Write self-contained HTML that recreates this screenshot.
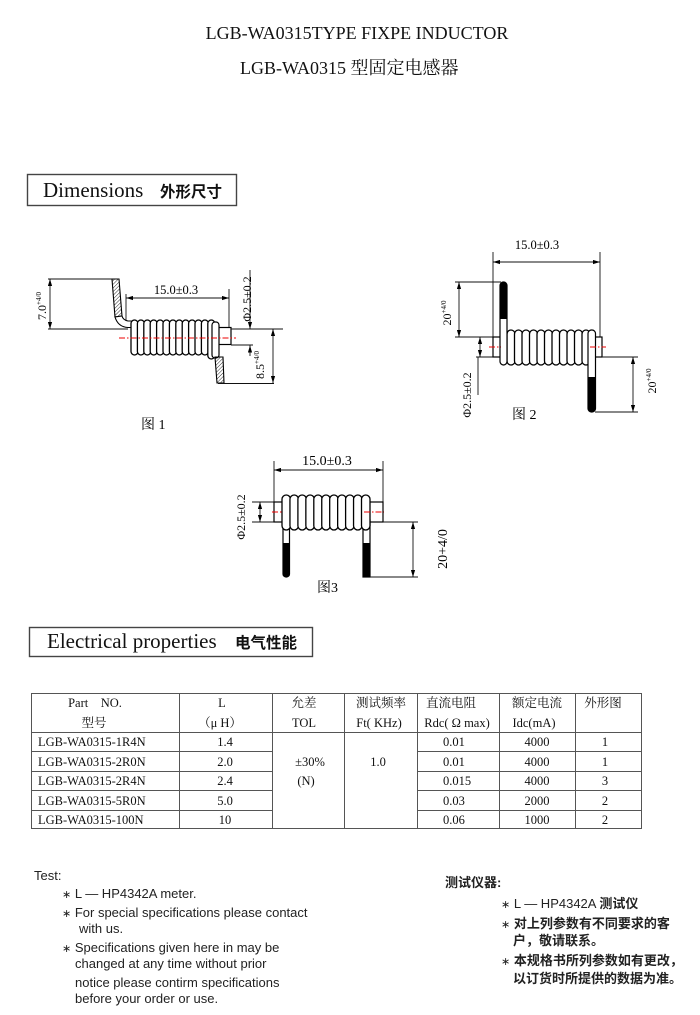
<!DOCTYPE html>
<html>
<head>
<meta charset="utf-8">
<style>
html,body{margin:0;padding:0;background:#fff;}
body{width:700px;height:1015px;overflow:hidden;position:relative;}
svg{position:absolute;left:0;top:0;}
.s{font-family:"Liberation Serif","Noto Serif CJK SC",serif;}
.ss{font-family:"Liberation Sans","Noto Sans CJK SC",sans-serif;}
.ln{stroke:#111;stroke-width:0.9;fill:none;}
.tb{stroke:#555;stroke-width:1;fill:none;}
.cl{fill:#fff;stroke:#000;stroke-width:1.3;}
.rd{stroke:#e00;stroke-width:1;stroke-dasharray:6,2,1.5,2;fill:none;}
</style>
</head>
<body>
<svg width="700" height="1015" viewBox="0 0 700 1015" xmlns="http://www.w3.org/2000/svg">
<defs>
<marker id="a" viewBox="0 0 10 6" refX="10" refY="3" markerWidth="7" markerHeight="4.5" orient="auto-start-reverse" markerUnits="userSpaceOnUse"><path d="M0,0L10,3L0,6z" fill="#000"/></marker>
<pattern id="h" width="2.6" height="2.6" patternUnits="userSpaceOnUse" patternTransform="rotate(45)"><line x1="0" y1="0" x2="0" y2="2.6" stroke="#000" stroke-width="0.8"/></pattern>
</defs>

<!-- Titles -->
<text class="s" x="357" y="39" font-size="18" text-anchor="middle" fill="#111">LGB-WA0315TYPE FIXPE INDUCTOR</text>
<text class="s" x="240" y="74" font-size="18" fill="#111">LGB-WA0315 型固定电感器</text>

<!-- Dimensions box -->
<rect x="27.5" y="174.5" width="209" height="31" fill="#fff" stroke="#444" stroke-width="1.4"/>
<text class="s" x="43" y="197" font-size="21" fill="#111">Dimensions</text>
<text class="ss" x="160" y="197" font-size="15.5" font-weight="bold" fill="#111">外形尺寸</text>

<!-- ===== Figure 1 ===== -->
<g>
<line class="ln" x1="48" y1="279" x2="112" y2="279"/>
<line class="ln" x1="48" y1="329" x2="128" y2="329"/>
<line class="ln" x1="50" y1="279" x2="50" y2="329" marker-start="url(#a)" marker-end="url(#a)"/>
<text class="s" font-size="12" transform="translate(46,306) rotate(-90)" text-anchor="middle">7.0<tspan font-size="7" dy="-5">+4/0</tspan></text>

<line class="ln" x1="126" y1="294" x2="126" y2="325"/>
<line class="ln" x1="229" y1="289" x2="229" y2="327"/>
<line class="ln" x1="126" y1="298" x2="229" y2="298" marker-start="url(#a)" marker-end="url(#a)"/>
<text class="s" x="176" y="294" font-size="12.5" text-anchor="middle">15.0±0.3</text>

<polygon points="112,279 119,279 122,316 115,317" fill="url(#h)" stroke="#000" stroke-width="1.1"/>
<path d="M115,317 Q118,327 128,327.5 L134,327.5 L134,321 L128,321 Q123,320 122,316 Z" fill="#fff" stroke="#000" stroke-width="1.1"/>

<rect class="cl" x="131" y="320" width="7" height="35" rx="3.5"/>
<rect class="cl" x="137.4" y="320" width="7" height="35" rx="3.5"/>
<rect class="cl" x="143.8" y="320" width="7" height="35" rx="3.5"/>
<rect class="cl" x="150.2" y="320" width="7" height="35" rx="3.5"/>
<rect class="cl" x="156.6" y="320" width="7" height="35" rx="3.5"/>
<rect class="cl" x="163" y="320" width="7" height="35" rx="3.5"/>
<rect class="cl" x="169.4" y="320" width="7" height="35" rx="3.5"/>
<rect class="cl" x="175.8" y="320" width="7" height="35" rx="3.5"/>
<rect class="cl" x="182.2" y="320" width="7" height="35" rx="3.5"/>
<rect class="cl" x="188.6" y="320" width="7" height="35" rx="3.5"/>
<rect class="cl" x="195" y="320" width="7" height="35" rx="3.5"/>
<rect class="cl" x="201.4" y="320" width="7" height="35" rx="3.5"/>
<rect class="cl" x="207.8" y="320" width="7" height="39" rx="3.5"/>
<rect x="215" y="327.5" width="16" height="17" fill="#fff" stroke="#000" stroke-width="1.2"/>
<rect x="212" y="322" width="7" height="36" rx="3" fill="#fff" stroke="#000" stroke-width="1.2"/>
<polygon points="215,357 223,357 224,383 217,383" fill="url(#h)" stroke="#000" stroke-width="1.1"/>
<line class="rd" x1="119" y1="338" x2="236" y2="338"/>

<line class="ln" x1="231" y1="329" x2="283" y2="329"/>
<line class="ln" x1="231" y1="345" x2="253" y2="345"/>
<line class="ln" x1="218" y1="383.5" x2="274" y2="383.5"/>
<line class="ln" x1="250" y1="270" x2="250" y2="329" marker-end="url(#a)"/>
<line class="ln" x1="250" y1="356" x2="250" y2="345.5" marker-end="url(#a)"/>
<text class="s" font-size="12" transform="translate(251,299) rotate(-90)" text-anchor="middle">Φ2.5±0.2</text>
<line class="ln" x1="273" y1="329" x2="273" y2="383" marker-start="url(#a)" marker-end="url(#a)"/>
<text class="s" font-size="12" transform="translate(264,365) rotate(-90)" text-anchor="middle">8.5<tspan font-size="7" dy="-5">+4/0</tspan></text>

<text class="s" x="141" y="429" font-size="14">图 1</text>
</g>

<!-- ===== Figure 2 ===== -->
<g>
<line class="ln" x1="493" y1="252" x2="493" y2="337"/>
<line class="ln" x1="600" y1="252" x2="600" y2="337"/>
<line class="ln" x1="493" y1="262" x2="600" y2="262" marker-start="url(#a)" marker-end="url(#a)"/>
<text class="s" x="537" y="249" font-size="12.5" text-anchor="middle">15.0±0.3</text>

<line class="ln" x1="455" y1="282" x2="501" y2="282"/>
<line class="ln" x1="455" y1="337" x2="493" y2="337"/>
<line class="ln" x1="459" y1="282" x2="459" y2="337" marker-start="url(#a)" marker-end="url(#a)"/>
<text class="s" font-size="12" transform="translate(451,313) rotate(-90)" text-anchor="middle">20<tspan font-size="7" dy="-5">+4/0</tspan></text>

<line class="ln" x1="476" y1="357" x2="493" y2="357"/>
<line class="ln" x1="480" y1="337" x2="480" y2="357" marker-start="url(#a)" marker-end="url(#a)"/>
<line class="ln" x1="478" y1="357" x2="478" y2="395"/>
<text class="s" font-size="12" transform="translate(471,395) rotate(-90)" text-anchor="middle">Φ2.5±0.2</text>

<rect x="493" y="337" width="8" height="20" fill="#fff" stroke="#000" stroke-width="1.2"/>
<rect x="594" y="337" width="8" height="20" fill="#fff" stroke="#000" stroke-width="1.2"/>
<rect class="cl" x="507" y="330" width="8" height="35" rx="4"/>
<rect class="cl" x="514.5" y="330" width="8" height="35" rx="4"/>
<rect class="cl" x="522" y="330" width="8" height="35" rx="4"/>
<rect class="cl" x="529.5" y="330" width="8" height="35" rx="4"/>
<rect class="cl" x="537" y="330" width="8" height="35" rx="4"/>
<rect class="cl" x="544.5" y="330" width="8" height="35" rx="4"/>
<rect class="cl" x="552" y="330" width="8" height="35" rx="4"/>
<rect class="cl" x="559.5" y="330" width="8" height="35" rx="4"/>
<rect class="cl" x="567" y="330" width="8" height="35" rx="4"/>
<rect class="cl" x="574.5" y="330" width="8" height="35" rx="4"/>
<rect class="cl" x="582" y="330" width="8" height="35" rx="4"/>
<rect x="500" y="282" width="7" height="83" rx="3.5" fill="#fff" stroke="#000" stroke-width="1.2"/>
<path d="M500,319 L500,285.5 A3.5,3.5 0 0 1 507,285.5 L507,319 Z" fill="#000"/>
<rect x="588" y="330" width="7.5" height="82" rx="3.5" fill="#fff" stroke="#000" stroke-width="1.2"/>
<path d="M588,377 L588,408.5 A3.75,3.5 0 0 0 595.5,408.5 L595.5,377 Z" fill="#000"/>
<line class="rd" x1="489" y1="347" x2="501" y2="347"/>
<line class="rd" x1="590" y1="347" x2="606" y2="347"/>

<line class="ln" x1="602" y1="357" x2="638" y2="357"/>
<line class="ln" x1="595" y1="412" x2="638" y2="412"/>
<line class="ln" x1="633" y1="357" x2="633" y2="412" marker-start="url(#a)" marker-end="url(#a)"/>
<text class="s" font-size="12" transform="translate(656,381) rotate(-90)" text-anchor="middle">20<tspan font-size="7" dy="-5">+4/0</tspan></text>

<text class="s" x="512" y="419" font-size="14">图 2</text>
</g>

<!-- ===== Figure 3 ===== -->
<g>
<line class="ln" x1="274" y1="461" x2="274" y2="502"/>
<line class="ln" x1="383" y1="461" x2="383" y2="502"/>
<line class="ln" x1="274" y1="470" x2="383" y2="470" marker-start="url(#a)" marker-end="url(#a)"/>
<text class="s" x="327" y="465" font-size="14" text-anchor="middle">15.0±0.3</text>

<line class="ln" x1="252" y1="502" x2="274" y2="502"/>
<line class="ln" x1="252" y1="522" x2="274" y2="522"/>
<line class="ln" x1="260" y1="502" x2="260" y2="522" marker-start="url(#a)" marker-end="url(#a)"/>
<text class="s" font-size="12" transform="translate(245,517) rotate(-90)" text-anchor="middle">Φ2.5±0.2</text>

<rect x="274" y="502" width="9" height="20" fill="#fff" stroke="#000" stroke-width="1.2"/>
<rect x="369" y="502" width="14" height="20" fill="#fff" stroke="#000" stroke-width="1.2"/>
<rect x="283" y="520" width="6.5" height="57" rx="3" fill="#fff" stroke="#000" stroke-width="1.2"/>
<path d="M283,543 L283,574 A3.25,3 0 0 0 289.5,574 L289.5,543 Z" fill="#000"/>
<rect x="363" y="520" width="7" height="57" fill="#fff" stroke="#000" stroke-width="1.2"/>
<rect x="363" y="543" width="7" height="34" fill="#000"/>
<rect class="cl" x="282" y="495" width="8.5" height="35" rx="4.2"/>
<rect class="cl" x="289.95" y="495" width="8.5" height="35" rx="4.2"/>
<rect class="cl" x="297.9" y="495" width="8.5" height="35" rx="4.2"/>
<rect class="cl" x="305.85" y="495" width="8.5" height="35" rx="4.2"/>
<rect class="cl" x="313.8" y="495" width="8.5" height="35" rx="4.2"/>
<rect class="cl" x="321.75" y="495" width="8.5" height="35" rx="4.2"/>
<rect class="cl" x="329.7" y="495" width="8.5" height="35" rx="4.2"/>
<rect class="cl" x="337.65" y="495" width="8.5" height="35" rx="4.2"/>
<rect class="cl" x="345.6" y="495" width="8.5" height="35" rx="4.2"/>
<rect class="cl" x="353.55" y="495" width="8.5" height="35" rx="4.2"/>
<rect class="cl" x="361.5" y="495" width="8.5" height="35" rx="4.2"/>
<line class="rd" x1="272" y1="512" x2="283" y2="512"/>
<line class="rd" x1="364" y1="512" x2="384" y2="512"/>

<line class="ln" x1="383" y1="522" x2="418" y2="522"/>
<line class="ln" x1="370" y1="577" x2="418" y2="577"/>
<line class="ln" x1="413" y1="522" x2="413" y2="577" marker-start="url(#a)" marker-end="url(#a)"/>
<text class="s" font-size="14" transform="translate(447,549) rotate(-90)" text-anchor="middle">20+4/0</text>

<text class="s" x="317" y="592" font-size="14">图3</text>
</g>

<!-- Electrical properties box -->
<rect x="29.5" y="627.5" width="283" height="29" fill="#fff" stroke="#444" stroke-width="1.4"/>
<text class="s" x="47" y="648" font-size="21" fill="#111">Electrical properties</text>
<text class="ss" x="235" y="648" font-size="15.5" font-weight="bold" fill="#111">电气性能</text>

<!-- Table -->
<g class="s" font-size="12.5" fill="#111">
<rect class="tb" x="31.5" y="693.5" width="610" height="135"/>
<line class="tb" x1="31" y1="732.5" x2="642" y2="732.5"/>
<line class="tb" x1="179.5" y1="693" x2="179.5" y2="829"/>
<line class="tb" x1="272.5" y1="693" x2="272.5" y2="829"/>
<line class="tb" x1="344.5" y1="693" x2="344.5" y2="829"/>
<line class="tb" x1="417.5" y1="693" x2="417.5" y2="829"/>
<line class="tb" x1="499.5" y1="693" x2="499.5" y2="829"/>
<line class="tb" x1="575.5" y1="693" x2="575.5" y2="829"/>
<line class="tb" x1="31" y1="751.5" x2="272" y2="751.5"/>
<line class="tb" x1="31" y1="771.5" x2="272" y2="771.5"/>
<line class="tb" x1="31" y1="790.5" x2="272" y2="790.5"/>
<line class="tb" x1="31" y1="810.5" x2="272" y2="810.5"/>
<line class="tb" x1="417" y1="751.5" x2="642" y2="751.5"/>
<line class="tb" x1="417" y1="771.5" x2="642" y2="771.5"/>
<line class="tb" x1="417" y1="790.5" x2="642" y2="790.5"/>
<line class="tb" x1="417" y1="810.5" x2="642" y2="810.5"/>

<text x="95" y="707" text-anchor="middle" xml:space="preserve">Part    NO.</text>
<text x="94" y="727" text-anchor="middle">型号</text>
<text x="222" y="707" text-anchor="middle">L</text>
<text x="220" y="727" text-anchor="middle">（μ H）</text>
<text x="304" y="707" text-anchor="middle">允差</text>
<text x="304" y="727" text-anchor="middle">TOL</text>
<text x="381" y="707" text-anchor="middle">测试频率</text>
<text x="379" y="727" text-anchor="middle">Ft( KHz)</text>
<text x="451" y="707" text-anchor="middle">直流电阻</text>
<text x="457" y="727" text-anchor="middle">Rdc( Ω max)</text>
<text x="537" y="707" text-anchor="middle">额定电流</text>
<text x="534" y="727" text-anchor="middle">Idc(mA)</text>
<text x="603" y="707" text-anchor="middle">外形图</text>

<text x="38" y="746">LGB-WA0315-1R4N</text>
<text x="38" y="766">LGB-WA0315-2R0N</text>
<text x="38" y="785">LGB-WA0315-2R4N</text>
<text x="38" y="805">LGB-WA0315-5R0N</text>
<text x="38" y="824">LGB-WA0315-100N</text>

<text x="225" y="746" text-anchor="middle">1.4</text>
<text x="225" y="766" text-anchor="middle">2.0</text>
<text x="225" y="785" text-anchor="middle">2.4</text>
<text x="225" y="805" text-anchor="middle">5.0</text>
<text x="225" y="824" text-anchor="middle">10</text>

<text x="310" y="766" text-anchor="middle">±30%</text>
<text x="306" y="785" text-anchor="middle">(N)</text>
<text x="378" y="766" text-anchor="middle">1.0</text>

<text x="443" y="746">0.01</text>
<text x="443" y="766">0.01</text>
<text x="443" y="785">0.015</text>
<text x="443" y="805">0.03</text>
<text x="443" y="824">0.06</text>

<text x="537" y="746" text-anchor="middle">4000</text>
<text x="537" y="766" text-anchor="middle">4000</text>
<text x="537" y="785" text-anchor="middle">4000</text>
<text x="537" y="805" text-anchor="middle">2000</text>
<text x="537" y="824" text-anchor="middle">1000</text>

<text x="605" y="746" text-anchor="middle">1</text>
<text x="605" y="766" text-anchor="middle">1</text>
<text x="605" y="785" text-anchor="middle">3</text>
<text x="605" y="805" text-anchor="middle">2</text>
<text x="605" y="824" text-anchor="middle">2</text>
</g>

<!-- Test notes -->
<g class="ss" font-size="13" fill="#222">
<text x="34" y="880">Test:</text>
<text x="62" y="898"><tspan font-size="11">∗</tspan> L — HP4342A meter.</text>
<text x="62" y="917"><tspan font-size="11">∗</tspan> For special specifications please contact</text>
<text x="79" y="933">with us.</text>
<text x="62" y="952"><tspan font-size="11">∗</tspan> Specifications given here in may be</text>
<text x="75" y="968">changed at any time without prior</text>
<text x="75" y="987">notice please contirm specifications</text>
<text x="75" y="1003">before your order or use.</text>
</g>

<g class="ss" font-size="13" fill="#222" font-weight="bold">
<text x="445" y="887">测试仪器:</text>
<text x="501" y="908" font-weight="normal"><tspan font-size="11">∗</tspan> L — HP4342A <tspan font-weight="bold">测试仪</tspan></text>
<text x="501" y="928"><tspan font-size="11" font-weight="normal">∗</tspan> 对上列参数有不同要求的客</text>
<text x="513" y="945">户，敬请联系。</text>
<text x="501" y="965"><tspan font-size="11" font-weight="normal">∗</tspan> 本规格书所列参数如有更改，</text>
<text x="513" y="983">以订货时所提供的数据为准。</text>
</g>
</svg>
</body>
</html>
